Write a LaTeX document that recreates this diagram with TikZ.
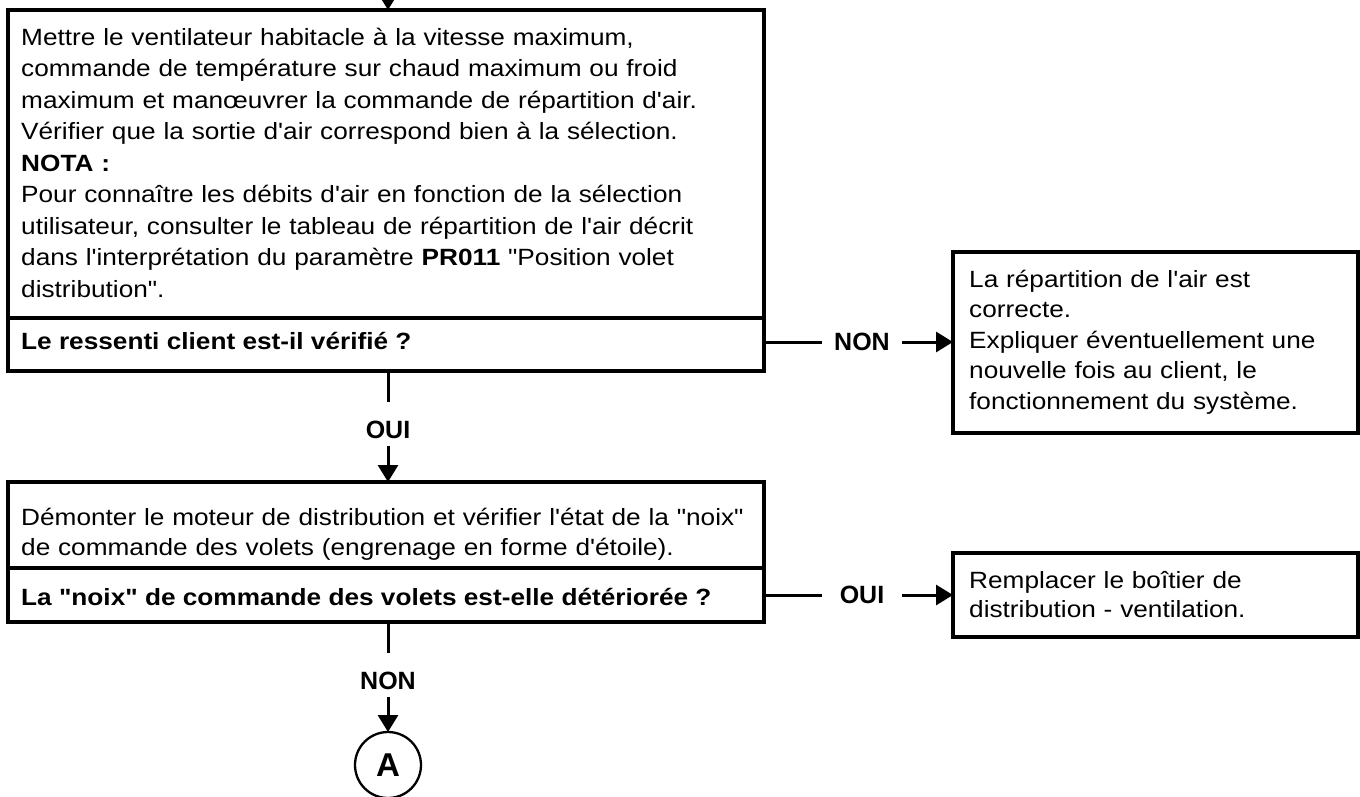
\documentclass[tikz,border=0pt]{standalone}
\usepackage{fontspec}
\setmainfont{Liberation Sans}[FakeStretch=1.115, Ligatures=TeXOff]
\newfontfamily\labelfont{Liberation Sans}[Ligatures=TeXOff]
\usetikzlibrary{arrows.meta}

\begin{document}
\begin{tikzpicture}[x=1pt, y=-1pt,
  frame/.style={draw, line width=3.5pt, rectangle, inner sep=0pt, outer sep=0pt, anchor=north west},
  bodytext/.style={anchor=base west, inner sep=0pt, text width=#1, align=left,
    font=\fontsize{23.5}{31.5}\selectfont},
  bodytext/.default=730,
  asktext/.style={anchor=base west, inner sep=0pt, font=\fontsize{23.5}{31.5}\selectfont\bfseries},
  choice/.style={inner sep=0pt, outer sep=0pt, font=\labelfont\bfseries\fontsize{25}{25}\selectfont},
  conn/.style={line width=3pt},
  arr/.style={-{Triangle[length=17pt, width=20pt]}},
]
\path[use as bounding box, fill=white] (0,0) rectangle (1360,796);

% frames of the boxes
\node[frame, minimum width=756, minimum height=308] (b1) at (8,10) {};
\node[frame, minimum width=756, minimum height=53] (q1) at (8,318) {};
\node[frame, minimum width=756, minimum height=86] (b2) at (8,482) {};
\node[frame, minimum width=756, minimum height=54] (q2) at (8,568) {};
\node[frame, minimum width=405, minimum height=181] (r1) at (953,252) {};
\node[frame, minimum width=405, minimum height=84] (r2) at (953,553) {};

% texts of the boxes
\node[bodytext] (t1) at (21,45) {Mettre le ventilateur habitacle à la vitesse maximum,\\
commande de température sur chaud maximum ou froid\\
maximum et manœuvrer la commande de répartition d'air.\\
Vérifier que la sortie d'air correspond bien à la sélection.\\
\textbf{NOTA :}\\
Pour connaître les débits d'air en fonction de la sélection\\
utilisateur, consulter le tableau de répartition de l'air décrit\\
dans l'interprétation du paramètre \textbf{PR011} "Position volet\\
distribution".};
\node[asktext] (a1) at (21,349) {Le ressenti client est-il vérifié ?};
\node[bodytext, font=\fontsize{23.5}{30}\selectfont] (t2) at (21,525) {Démonter le moteur de distribution et vérifier l'état de la "noix"\\
de commande des volets (engrenage en forme d'étoile).};
\node[asktext] (a2) at (21,605) {La "noix" de commande des volets est-elle détériorée ?};
\node[bodytext=390, font=\fontsize{23.5}{30.5}\selectfont] (t3) at (969,287) {La répartition de l'air est\\
correcte.\\
Expliquer éventuellement une\\
nouvelle fois au client, le\\
fonctionnement du système.};
\node[bodytext=390, font=\fontsize{23.5}{29}\selectfont] (t4) at (969,588) {Remplacer le boîtier de\\
distribution - ventilation.};

% answer labels and connector A
\node[choice, minimum width=80] (n1) at (862,342) {NON};
\node[choice] (o1) at (388,430) {OUI};
\node[choice, minimum width=80] (o2) at (862,595) {OUI};
\node[choice] (n2) at (388,681) {NON};
\node[circle, draw, line width=2.3pt, minimum size=66, inner sep=0pt, outer sep=0pt,
  font=\labelfont\bfseries\fontsize{33}{33}\selectfont] (A) at (388,765) {A};

% connectors
\coordinate (in) at (388,-30);
\draw[conn, arr] (in) -- (in |- b1.north);

\draw[conn] (n1.west -| q1.east) -- (n1.west);
\draw[conn, arr] (n1.east) -- (n1.east -| r1.west);

\draw[conn] (o2.west -| q2.east) -- (o2.west);
\draw[conn, arr] (o2.east) -- (o2.east -| r2.west);

\draw[conn] (o1 |- q1.south) -- ([yshift=19pt]o1.north);
\draw[conn, arr] ([yshift=-7pt]o1.south) -- (o1 |- b2.north);

\draw[conn] (n2 |- q2.south) -- ([yshift=19pt]n2.north);
\draw[conn, arr] ([yshift=-7pt]n2.south) -- (A.north);
\end{tikzpicture}
\end{document}
